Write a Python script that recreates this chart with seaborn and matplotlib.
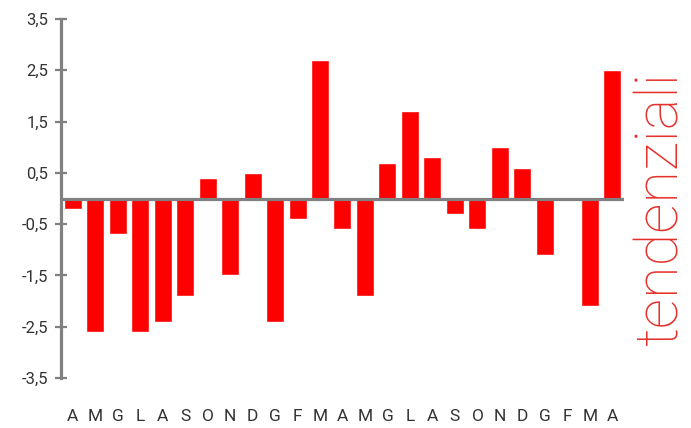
import matplotlib
matplotlib.use('Agg')
import matplotlib.pyplot as plt
import seaborn as sns
import pandas as pd

# dati
mesi = ['A', 'M', 'G', 'L', 'A', 'S', 'O', 'N', 'D', 'G', 'F', 'M',
        'A', 'M', 'G', 'L', 'A', 'S', 'O', 'N', 'D', 'G', 'F', 'M', 'A']
valori = [-0.2, -2.6, -0.7, -2.6, -2.4, -1.9, 0.4, -1.5, 0.5, -2.4, -0.4, 2.7,
          -0.6, -1.9, 0.7, 1.7, 0.8, -0.3, -0.6, 1.0, 0.6, -1.1, 0.0, -2.1, 2.5]
tick_y = [-3.5, -2.5, -1.5, -0.5, 0.5, 1.5, 2.5, 3.5]
titolo = 'tendenziali'

df = pd.DataFrame({'pos': range(len(valori)), 'valore': valori})

sns.set_style('white')
plt.rcParams['font.family'] = ['Liberation Sans Narrow', 'Roboto', 'DejaVu Sans']

fig = plt.figure(figsize=(6.91, 4.28), dpi=100)
ax = fig.add_axes([0.0887, 0.1168, 0.8139, 0.8388])

sns.barplot(data=df, x='pos', y='valore', color='#ff0000', saturation=1,
            width=0.8, ax=ax, zorder=2)

ax.axhline(0, color='#808080', lw=2.3, zorder=3)

ax.set_xlim(-0.5, len(valori) - 0.5)
ax.set_ylim(-3.5, 3.5)
ax.set_xticks(range(len(mesi)))
ax.set_xticklabels(mesi)
ax.set_yticks(tick_y)
ax.set_yticklabels([str(v).replace('.', ',') for v in tick_y])
ax.set_xlabel('')
ax.set_ylabel('')

for s in ['top', 'right', 'bottom']:
    ax.spines[s].set_visible(False)
ax.spines['left'].set_color('#808080')
ax.spines['left'].set_linewidth(2.3)

ax.tick_params(axis='y', left=True, direction='inout', length=8.5, width=1.6,
               color='#808080', labelsize=12, labelcolor='#333333', pad=5)
ax.tick_params(axis='x', bottom=False, length=0, labelsize=12.5,
               labelcolor='#333333', pad=22)

fig.text(0.957, 0.513, titolo, rotation=90, color='#e4312b', fontsize=43,
         family=['Roboto', 'DejaVu Sans'], fontweight='light',
         ha='center', va='center')

fig.savefig('out.png', dpi=100)
